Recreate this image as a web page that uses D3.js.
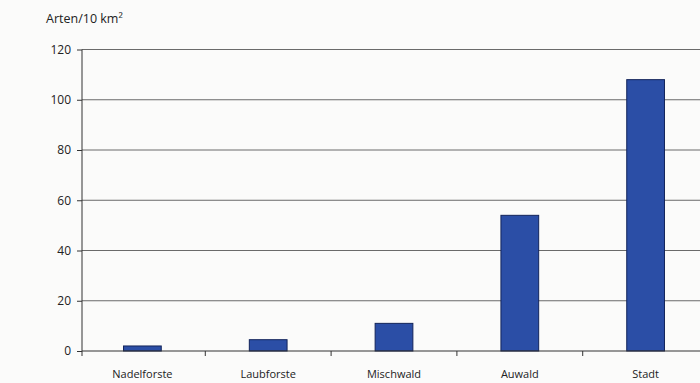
<!DOCTYPE html>
<html>
<head>
<meta charset="utf-8">
<script src="https://cdn.jsdelivr.net/npm/d3@7"></script>
<style>
  html, body { margin: 0; padding: 0; background: #fbfbfa; }
  svg { display: block; }
  text { font-family: "Open Sans", "Noto Sans", sans-serif; fill: #222; }
</style>
</head>
<body>
<svg id="chart" width="700" height="383"></svg>
<script>
// Artenzahl je 10 km² nach Lebensraum
const categories = ["Nadelforste", "Laubforste", "Mischwald", "Auwald", "Stadt"];
const values = [2, 4.5, 11, 54, 108];
const yTicks = [0, 20, 40, 60, 80, 100, 120];
const yLabel = "Arten/10 km²";

const svg = d3.select("#chart");
const plotLeft = 82, plotTop = 49.5, plotBottom = 351, plotRight = 706;

const x = d3.scaleBand().domain(categories).range([plotLeft, plotRight]).paddingInner(0.7).paddingOuter(0.33);
const y = d3.scaleLinear().domain([0, 120]).range([plotBottom, plotTop]);

// horizontal gridlines
svg.append("g")
  .selectAll("line")
  .data(yTicks.filter(d => d > 0))
  .join("line")
  .attr("x1", plotLeft).attr("x2", 700)
  .attr("y1", d => y(d)).attr("y2", d => y(d))
  .attr("stroke", "#6a6a6a").attr("stroke-width", 1);

// bars
svg.append("g")
  .selectAll("rect")
  .data(categories.map((c, i) => ({ c, v: values[i] })))
  .join("rect")
  .attr("x", d => x(d.c))
  .attr("width", x.bandwidth())
  .attr("y", d => y(d.v))
  .attr("height", d => y(0) - y(d.v))
  .attr("fill", "#2b4ea6")
  .attr("stroke", "#13245a")
  .attr("stroke-width", 1);

// y axis
const yAxis = svg.append("g")
  .attr("transform", `translate(${plotLeft},0)`)
  .call(d3.axisLeft(y).tickValues(yTicks).tickSize(5).tickPadding(6));
yAxis.select(".domain").attr("stroke", "#333").attr("d", `M0,${plotTop}V${plotBottom + 5}`);
yAxis.selectAll(".tick line").attr("stroke", "#333");
yAxis.selectAll(".tick text").attr("font-size", 12).attr("fill", "#222");

// x axis with tick marks on the category boundaries
const xAxisG = svg.append("g").attr("transform", `translate(0,${plotBottom})`);
xAxisG.append("line")
  .attr("x1", plotLeft).attr("x2", 700).attr("y1", 0).attr("y2", 0)
  .attr("stroke", "#333").attr("stroke-width", 1.2);
const step = x.step();
const boundaries = categories.slice(1).map(c => x(c) - x.paddingInner() * step / 2);
xAxisG.selectAll(".bt")
  .data(boundaries)
  .join("line")
  .attr("class", "bt")
  .attr("x1", d => d).attr("x2", d => d)
  .attr("y1", 0).attr("y2", 5)
  .attr("stroke", "#333");
xAxisG.selectAll("text")
  .data(categories)
  .join("text")
  .attr("x", d => x(d) + x.bandwidth() / 2)
  .attr("y", 27)
  .attr("text-anchor", "middle")
  .attr("font-size", 11)
  .text(d => d);

// unit label
svg.append("text")
  .attr("x", 46).attr("y", 23)
  .attr("font-size", 12.5)
  .text(yLabel);
</script>
</body>
</html>
